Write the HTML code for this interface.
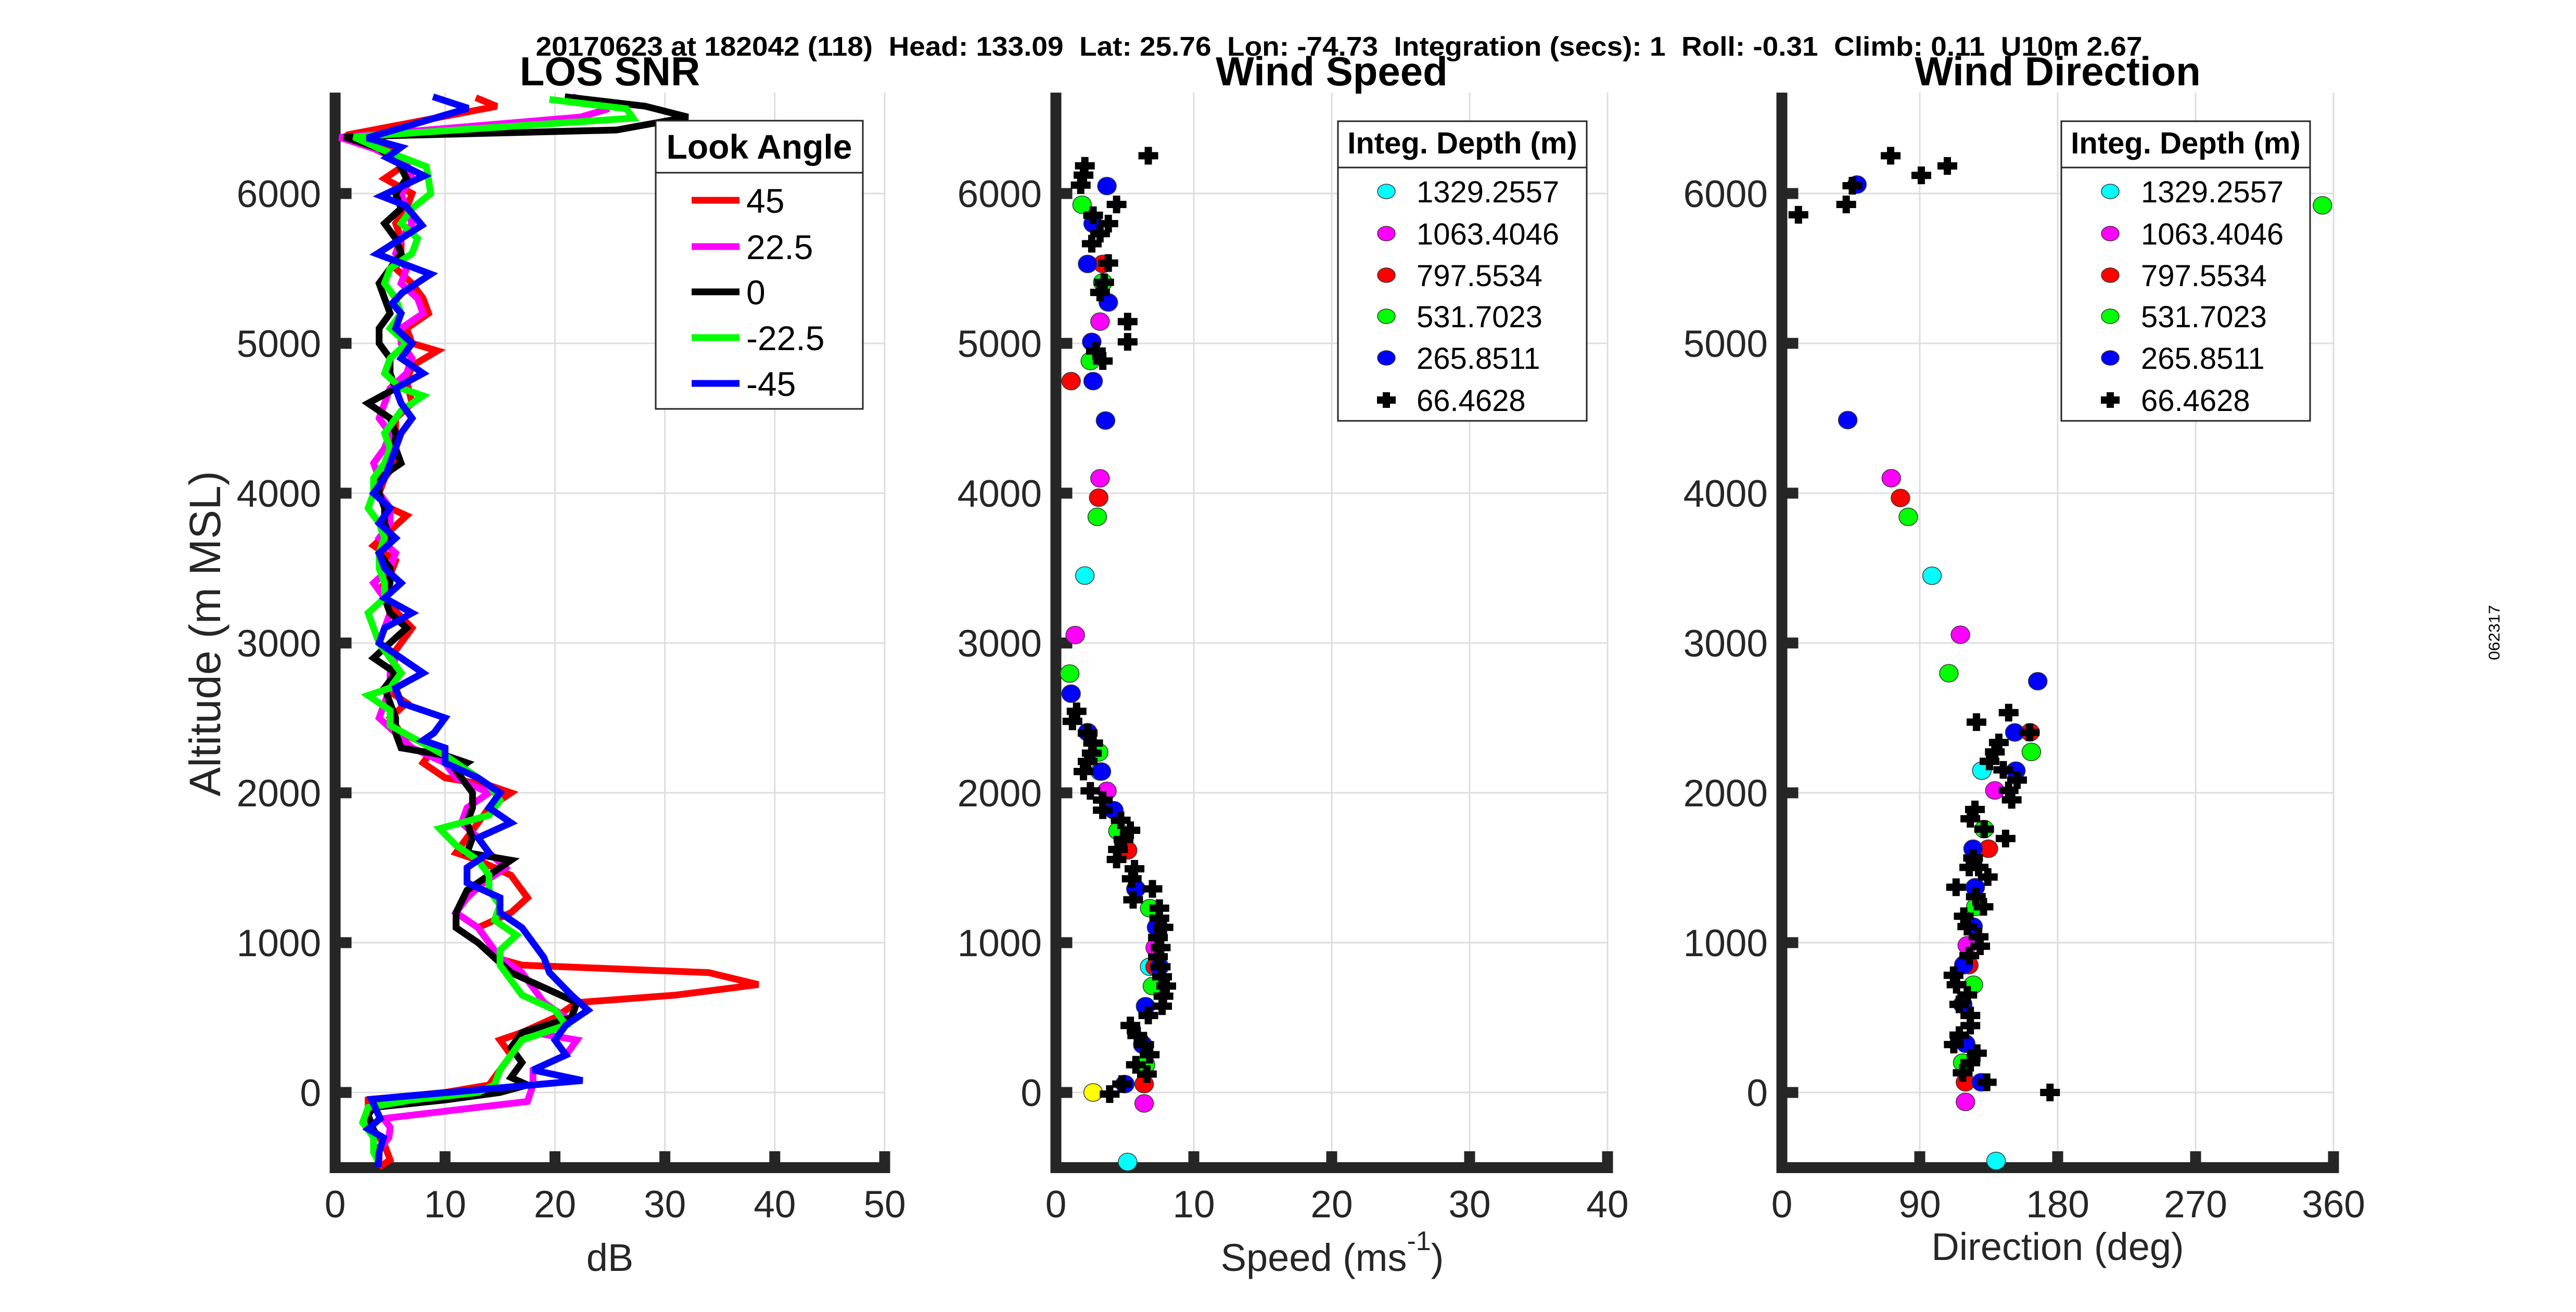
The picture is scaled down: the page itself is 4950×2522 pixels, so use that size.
<!DOCTYPE html>
<html><head><meta charset="utf-8"><title>LOS SNR / Wind Speed / Wind Direction</title>
<style>
html,body{margin:0;padding:0;background:#fff;}
svg{display:block;font-family:"Liberation Sans",Arial,sans-serif;}
</style></head>
<body>
<svg id="fig" xmlns="http://www.w3.org/2000/svg" width="4950" height="2522" viewBox="0 0 4950 2522">
<rect x="0" y="0" width="4950" height="2522" fill="#fff"/>
<text x="2573" y="107" text-anchor="middle" font-size="52" font-weight="bold" fill="#000" textLength="3087" lengthAdjust="spacingAndGlyphs" xml:space="preserve" style="white-space:pre">20170623 at 182042 (118)  Head: 133.09  Lat: 25.76  Lon: -74.73  Integration (secs): 1  Roll: -0.31  Climb: 0.11  U10m 2.67</text>
<text x="1172" y="164" text-anchor="middle" font-size="78" font-weight="bold" fill="#000">LOS SNR</text>
<text x="2559" y="164" text-anchor="middle" font-size="78" font-weight="bold" fill="#000">Wind Speed</text>
<text x="3954" y="164" text-anchor="middle" font-size="78" font-weight="bold" fill="#000">Wind Direction</text>
<text transform="translate(423,1218) rotate(-90)" text-anchor="middle" font-size="84" fill="#262626">Altitude (m MSL)</text>
<text x="1172" y="2443" text-anchor="middle" font-size="74" fill="#262626">dB</text>
<text x="2560" y="2443" text-anchor="middle" font-size="74" fill="#262626">Speed (ms<tspan dy="-40" font-size="52">-1</tspan><tspan dy="40">)</tspan></text>
<text x="3954" y="2422" text-anchor="middle" font-size="74" fill="#262626">Direction (deg)</text>
<text transform="translate(4803,1216) rotate(-90)" text-anchor="middle" font-size="30" fill="#000" textLength="106" lengthAdjust="spacingAndGlyphs">062317</text>
<g id="layer"></g>
</svg>
<script>
// ---------- shared axis data ----------
const altTicks = [0, 1000, 2000, 3000, 4000, 5000, 6000];
const snrTicks = [0, 10, 20, 30, 40, 50];
const speedTicks = [0, 10, 20, 30, 40];
const dirTicks = [0, 90, 180, 270, 360];
const altRange = [-500, 6670];

// ---------- LOS SNR series ----------
const snrLabels = ["45", "22.5", "0", "-22.5", "-45"];
const alt45 = [6640,6582,6390,6300,6200,6100,6000,5900,5800,5700,5600,5500,5400,5300,5200,5100,5000,4950,4850,4750,4600,4500,4400,4300,4200,4100,4000,3900,3850,3750,3650,3550,3450,3350,3250,3100,3000,2900,2800,2700,2600,2500,2400,2300,2200,2100,2050,2000,1900,1800,1700,1600,1550,1450,1350,1300,1200,1100,1000,900,850,800,720,650,600,500,400,350,250,150,50,0,-50,-150,-250,-350,-450,-500];
const db45 = [12.8,14.7,1,5,6.5,4.5,7,6.5,5.5,6,6,5.5,7,8,8.5,6.5,7,9.3,7,6.5,7,5.5,5.5,5,5.5,4.5,4,5,6.5,5,3.5,5.5,5,4,5,7,6,5,6,4.5,6.5,5,6,9,8,10,14,16,14,13,12,11,13,16,17,17.5,16,13,14,14.5,17,34,38.5,31,22,20,17,15,16,15,14,10,3,3,3.5,4.5,5,4];
const alt22 = [6646,6566,6510,6375,6300,6200,6100,6000,5900,5800,5700,5600,5500,5400,5300,5200,5100,5000,4900,4800,4700,4600,4500,4400,4300,4200,4100,4000,3900,3800,3700,3600,3500,3400,3300,3200,3100,3000,2900,2800,2700,2600,2500,2400,2300,2200,2100,2000,1900,1800,1700,1600,1500,1400,1300,1200,1100,1000,900,800,700,600,500,400,350,250,150,50,-60,-174,-232,-300,-380,-460];
const db22 = [21.6,24.9,22.3,0.4,3.5,6.5,7,6,6.5,7,6,5.5,6.5,6,7.5,8,6,6,7,6.5,5,4.5,4,5,4.5,3.5,4,4,5,5,4,5.5,5,3.5,4.5,5,4.5,4,5.5,5,5,4.5,4,5.5,7,10,11,14,12,11.5,13,14,15.5,13.5,12,11,13,14,15,17,18,19,21,18,22,21,18,18,17.5,4.4,5,4.9,4,4];
const alt0 = [6646,6583,6510,6424,6378,6300,6200,6100,6000,5900,5800,5700,5600,5500,5400,5300,5200,5100,5000,4900,4800,4700,4600,4500,4400,4300,4200,4100,4000,3900,3800,3700,3600,3500,3400,3300,3200,3100,3000,2900,2800,2700,2600,2500,2400,2300,2250,2200,2150,2100,2000,1900,1800,1700,1600,1550,1450,1350,1200,1100,1000,900,800,700,600,500,400,300,200,100,50,0,-50,-100,-150,-250,-350,-400,-450];
const db0 = [20.9,28.2,32.1,25.6,0.8,4,5.8,6.5,5.5,6,4.5,5.5,6,5,4,4.5,5,4,4,5,5,5.5,3,5,5.5,5.5,6,4,4,4.5,4.5,5,4,5,5,4.5,5,6.5,5,3.5,5.5,4.5,5,5.5,5.5,6,10,12,11,11.5,12.5,12.5,12,12.5,12,16,14,12,11,11,13,14.5,16,19,22,21.5,17,16,17,16,17.5,15,10,3.5,3,3.5,3.5,4,3.8];
const altM22 = [6628,6566,6503,6378,6300,6180,6000,5900,5800,5700,5600,5500,5400,5300,5200,5100,5000,4900,4800,4700,4650,4550,4400,4300,4200,4100,4000,3900,3800,3700,3600,3500,3400,3300,3200,3100,3000,2900,2800,2700,2650,2550,2450,2350,2250,2150,2050,1950,1850,1761,1650,1550,1450,1350,1250,1150,1050,950,850,750,650,550,450,350,250,150,50,0,-50,-100,-200,-300,-400,-470];
const dbM22 = [19.5,26.5,27.1,1.7,4,8.3,8.7,7,6,7.5,7,5,4.5,5.5,6,5,6.5,5,4.5,6,8,6,4.5,5,4.5,3.5,3.5,3,4,4.5,4,4,4.5,4.5,3,3.5,4,5,6,5,3,5,5,7.5,10,12,14,15,14,9.5,11,13,14,14,15,14.5,16.5,15,15,16,17,20,21,17,16,15,14.5,13,7,3,2.5,3.5,3.5,4];
const altM45 = [6646,6569,6371,6309,6240,6118,5983,5920,5788,5597,5462,5337,5267,5200,5100,5000,4900,4800,4700,4600,4500,4400,4300,4200,4100,4000,3900,3800,3700,3600,3500,3400,3300,3200,3100,3000,2900,2800,2700,2600,2500,2400,2350,2300,2200,2100,2000,1900,1800,1700,1600,1500,1400,1300,1200,1100,1000,900,800,650,550,450,350,250,150,80,-45,-174,-243,-302,-400,-497];
const dbM45 = [8.9,12.1,2.9,6,4.7,8.1,4.2,6.4,7.9,3.8,8.7,6.1,5.2,6,5.5,7,6,8,5.5,6,7,6,5.5,5,4.5,3.5,5,4,5.5,4,4.5,6,4.5,7,4.5,4,6,8,5.5,6,10,9,8,10,10,13,15,14,16,13,14,12,12,15,15,17,18,19,19.5,21.5,23,21,20,21,18,22.5,3.3,4.1,3,4.4,4,3.9];

// ---------- Wind speed scatter (m/s) ----------
const depthLabels = ["1329.2557", "1063.4046", "797.5534", "531.7023", "265.8511", "66.4628"];
const wsCyanAlt = [3450,2142,839,-464];
const wsCyanSpd = [2.1,3.2,6.8,5.2];
const wsMagAlt = [5145,4099,3053,2013,967,-73];
const wsMagSpd = [3.2,3.2,1.4,3.7,7.2,6.4];
const wsRedAlt = [5530,4748,3970,1616,839,56];
const wsRedSpd = [3.4,1.1,3.1,5.2,7.2,6.4];
const wsGreenAlt = [5925,5407,4882,3842,2796,2270,1745,1230,710,185];
const wsGreenSpd = [1.9,3.4,2.5,3.0,1.0,3.1,4.5,6.8,7.0,6.5];
const wsBlueAlt = [6050,5799,5530,5273,5010,4748,4485,2662,2405,2142,1884,1359,1102,839,576,319,56];
const wsBlueSpd = [3.7,2.7,2.3,3.8,2.6,2.7,3.6,1.1,2.3,3.3,4.2,5.8,7.3,7.5,6.5,6.3,5.0];
const wsBlackAlt = [6252,6185,6123,6056,5927,5855,5799,5732,5665,5536,5407,5340,5145,5010,4949,4882,2544,2477,2399,2332,2265,2209,2142,2013,1952,1884,1817,1750,1689,1622,1555,1493,1426,1359,1286,1230,1163,1102,1034,967,906,839,772,710,643,576,514,447,380,319,252,185,123,56,-11];
const wsBlackSpd = [6.7,2.1,2.0,1.8,4.4,2.7,3.8,3.2,2.6,3.8,3.5,3.2,5.2,5.2,2.9,3.4,1.5,1.2,2.3,2.7,2.6,2.3,2.0,2.5,3.4,3.4,4.7,5.4,4.9,4.5,4.4,5.7,5.5,7.0,5.6,7.5,7.5,7.8,7.4,7.6,7.4,7.6,7.7,8.0,7.8,7.7,6.7,5.4,5.9,6.4,6.8,5.8,6.6,4.8,3.9];
const wsYellowAlt = [0];
const wsYellowSpd = [2.7];

// ---------- Wind direction scatter (deg) ----------
const wdCyanAlt = [3449,2148,855,-457];
const wdCyanDir = [98,130.5,119,139.8];
const wdMagAlt = [4100,3055,2016,982,-63];
const wdMagDir = [71.4,116.5,139,121,119.8];
const wdRedAlt = [3968,2404,1627,850,68];
const wdRedDir = [77.4,162,134.8,122,119.8];
const wdGreenAlt = [5921,3842,2798,2273,1758,1239,719,199];
const wdGreenDir = [352.8,82.5,109,162.8,132,126.6,125,118];
const wdBlueAlt = [6060,4488,2745,2403,2148,1627,1370,1107,850,588,325,68];
const wdBlueDir = [49,43,167,152,152.7,124.8,126.2,124.8,118.7,118,120,130];
const wdBlackAlt = [5858,5927,6052,6252,6121,6184,2472,2535,2403,2336,2273,2210,2153,2085,2016,1953,1827,1889,1758,1695,1565,1502,1502,1438,1370,1307,1239,1176,1107,1039,976,913,782,719,651,588,514,446,383,320,262,199,131,68,0];
const wdBlackDir = [10.8,42,46,71,91,108,127,148,161.7,141.6,139,135.5,144.5,153.5,148,150,123,126,132,146,124.8,122.3,128.4,134.4,113.7,126.6,131.6,118.7,121,128.4,129.4,122.3,112,114,121,115.8,123,123,115.8,112.2,127.3,123,118,133.7,175];

// ---------- helpers ----------
const NS = "http://www.w3.org/2000/svg";
const layer = document.getElementById("layer");
const Y_TOP = 178, Y_BOT = 2244.5, AXW = 21;
function yScale(a) { return 2100 - a * 0.288; }
function makeX(x0, x1, vmax) { return v => x0 + (x1 - x0) * v / vmax; }
function el(tag, attrs, parent) {
  const e = document.createElementNS(NS, tag);
  for (const k in attrs) e.setAttribute(k, attrs[k]);
  (parent || layer).appendChild(e);
  return e;
}

function drawAxes(name, x0, x1, xScale, xTicks, xmax) {
  const g = el("g", {});
  
  
  xTicks.forEach(t => {
    const x = xScale(t);
    const gl = el("line", {x1: x, x2: x, y1: Y_TOP, y2: Y_BOT, stroke: "#dedede", "stroke-width": 3}, g);
    
    
  });
  altTicks.forEach(t => {
    const y = yScale(t);
    const gl = el("line", {x1: x0, x2: x1, y1: y, y2: y, stroke: "#dedede", "stroke-width": 3}, g);
    
    
  });
  const ya = el("rect", {x: x0 - AXW / 2, y: Y_TOP, width: AXW, height: Y_BOT + AXW / 2 - Y_TOP, fill: "#262626"}, g);
  
  
  const xa = el("rect", {x: x0 - AXW / 2, y: Y_BOT - AXW / 2, width: x1 - x0 + AXW, height: AXW, fill: "#262626"}, g);
  
  
  xTicks.forEach(t => {
    const x = xScale(t);
    const tk = el("rect", {x: x - AXW / 2, y: Y_BOT - AXW / 2 - 21, width: AXW, height: 21, fill: "#262626"}, g);
    
    
    const lb = el("text", {x: x, y: 2340, "text-anchor": "middle", "font-size": 73, fill: "#262626"}, g);
    lb.textContent = String(t);
    
    
  });
  altTicks.forEach(t => {
    const y = yScale(t);
    const tk = el("rect", {x: x0 + AXW / 2, y: y - AXW / 2, width: 21, height: AXW, fill: "#262626"}, g);
    
    
    const lb = el("text", {x: x0 - 27, y: y + 26, "text-anchor": "end", "font-size": 73, fill: "#262626"}, g);
    lb.textContent = String(t);
    
    
  });
}

function drawLine(name, alts, vals, xScale, color) {
  const pts = alts.map((a, i) => xScale(vals[i]).toFixed(1) + "," + yScale(a).toFixed(1)).join(" ");
  const p = el("polyline", {points: pts, fill: "none", stroke: color, "stroke-width": 13, "stroke-linejoin": "miter", "stroke-miterlimit": 3});
  
  
}

function drawDots(name, alts, vals, xScale, color) {
  const g = el("g", {});
  
  
  alts.forEach((a, i) => {
    const c = el("ellipse", {cx: xScale(vals[i]), cy: yScale(a), rx: 18, ry: 17, fill: color, stroke: "#3a3a3a", "stroke-width": 1.5}, g);
    
    
  });
}

function drawCrosses(name, alts, vals, xScale) {
  const g = el("g", {});
  
  
  alts.forEach((a, i) => {
    const x = xScale(vals[i]), y = yScale(a);
    const c = el("path", {d: `M${x - 19},${y}H${x + 19}M${x},${y - 17}V${y + 17}`, stroke: "#000", "stroke-width": 14, fill: "none"}, g);
    
    
  });
}

function drawLegendBox(name, x, y, w, h, hy, title, tx, fs) {
  const g = el("g", {});
  
  
  el("rect", {x: x, y: y, width: w, height: h, fill: "#fff", stroke: "#262626", "stroke-width": 3}, g);
  el("line", {x1: x, x2: x + w, y1: hy, y2: hy, stroke: "#262626", "stroke-width": 3}, g);
  const t = el("text", {x: tx, y: hy - 27, "text-anchor": "middle", "font-size": fs, "font-weight": "bold", fill: "#000"}, g);
  t.textContent = title;
  
  
  return g;
}

// ---------- Panel 1: LOS SNR ----------
const xSnr = makeX(644, 1700, 50);
drawAxes("snr", 644, 1700, xSnr, snrTicks, 50);
const snrColors = ["#ff0000", "#ff00ff", "#000000", "#00ff00", "#0000ff"];
drawLine("snr-line-45", alt45, db45, xSnr, snrColors[0]);
drawLine("snr-line-22.5", alt22, db22, xSnr, snrColors[1]);
drawLine("snr-line-0", alt0, db0, xSnr, snrColors[2]);
drawLine("snr-line-minus-22.5", altM22, dbM22, xSnr, snrColors[3]);
drawLine("snr-line-minus-45", altM45, dbM45, xSnr, snrColors[4]);
{
  const g = drawLegendBox("look-angle-legend", 1260, 232, 398, 554, 332, "Look Angle", 1459, 66);
  const ys = [385, 474, 561, 649, 737];
  snrLabels.forEach((lab, i) => {
    const ln = el("line", {x1: 1329, x2: 1421, y1: ys[i], y2: ys[i], stroke: snrColors[i], "stroke-width": 13}, g);
    
    
    const t = el("text", {x: 1434, y: ys[i] + 24, "font-size": 66, fill: "#000"}, g);
    t.textContent = lab;
    
    
  });
}

// ---------- Panel 2: Wind speed ----------
const xSpd = makeX(2029, 3089, 40);
drawAxes("speed", 2029, 3089, xSpd, speedTicks, 40);
drawDots("speed-1329", wsCyanAlt, wsCyanSpd, xSpd, "#00ffff");
drawDots("speed-1063", wsMagAlt, wsMagSpd, xSpd, "#ff00ff");
drawDots("speed-797", wsRedAlt, wsRedSpd, xSpd, "#ff0000");
drawDots("speed-531", wsGreenAlt, wsGreenSpd, xSpd, "#00ff00");
drawDots("speed-265", wsBlueAlt, wsBlueSpd, xSpd, "#0000ff");
drawDots("speed-surface", wsYellowAlt, wsYellowSpd, xSpd, "#ffff00");
drawCrosses("speed-66", wsBlackAlt, wsBlackSpd, xSpd);

// ---------- Panel 3: Wind direction ----------
const xDir = makeX(3424, 4484, 360);
drawAxes("direction", 3424, 4484, xDir, dirTicks, 360);
drawDots("direction-1329", wdCyanAlt, wdCyanDir, xDir, "#00ffff");
drawDots("direction-1063", wdMagAlt, wdMagDir, xDir, "#ff00ff");
drawDots("direction-797", wdRedAlt, wdRedDir, xDir, "#ff0000");
drawDots("direction-531", wdGreenAlt, wdGreenDir, xDir, "#00ff00");
drawDots("direction-265", wdBlueAlt, wdBlueDir, xDir, "#0000ff");
drawCrosses("direction-66", wdBlackAlt, wdBlackDir, xDir);

// ---------- depth legends ----------
const depthColors = ["#00ffff", "#ff00ff", "#ff0000", "#00ff00", "#0000ff", "#000000"];
function depthLegend(name, bx, mx, tx) {
  const g = drawLegendBox(name, bx, 233, 478, 576, 322, "Integ. Depth (m)", bx + 239, 58);
  const ys = [368, 449, 529, 608, 688, 769];
  depthLabels.forEach((lab, i) => {
    let m;
    if (i < 5) {
      m = el("ellipse", {cx: mx, cy: ys[i], rx: 17, ry: 14, fill: depthColors[i], stroke: "#3a3a3a", "stroke-width": 1.5}, g);
    } else {
      m = el("path", {d: `M${mx - 18},${ys[i]}H${mx + 18}M${mx},${ys[i] - 15}V${ys[i] + 15}`, stroke: "#000", "stroke-width": 14, fill: "none"}, g);
    }
    
    
    const t = el("text", {x: tx, y: ys[i] + 21, "font-size": 58, fill: "#000"}, g);
    t.textContent = lab;
    
    
  });
}
depthLegend("speed-legend", 2571, 2664, 2722);
depthLegend("direction-legend", 3961, 4055, 4114);
</script>
</body></html>
